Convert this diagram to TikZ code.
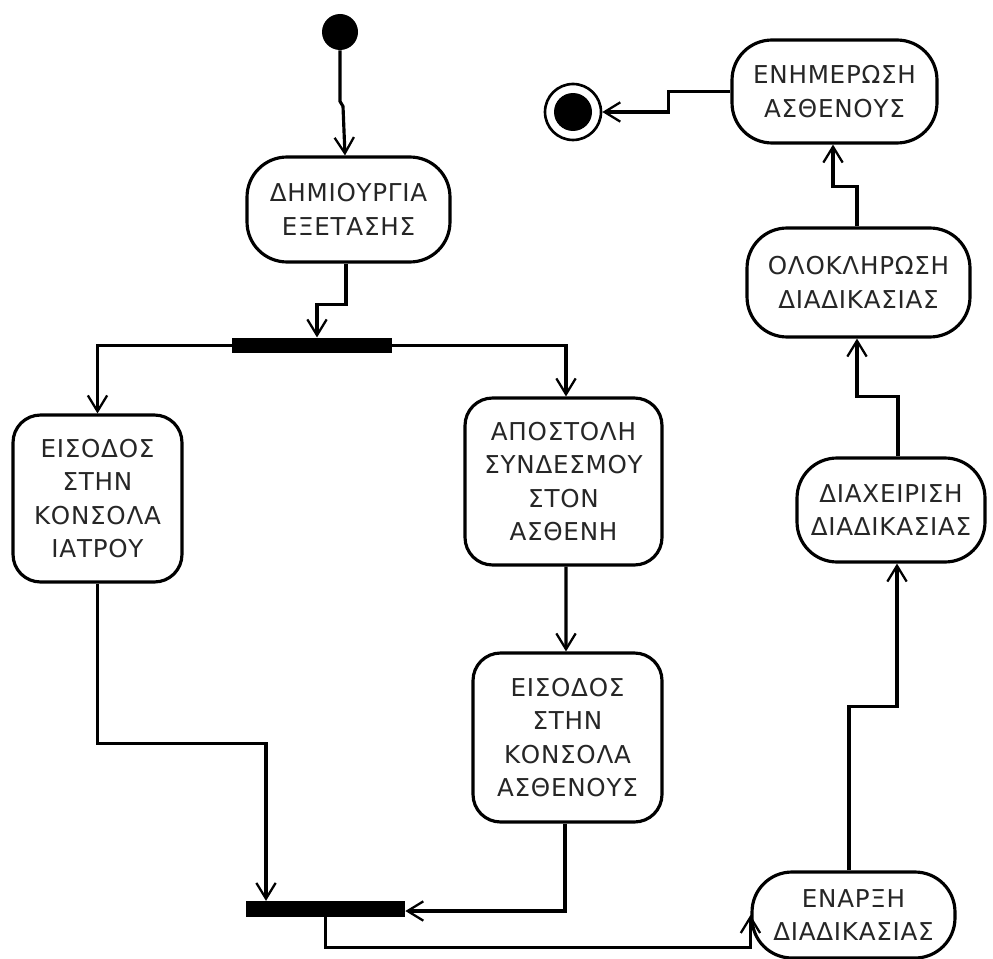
\documentclass[tikz,border=0pt]{standalone}
\usepackage{fontspec}
\setmainfont{DejaVu Sans}[LetterSpace=3]
\usetikzlibrary{arrows.meta,calc}
\begin{document}
\begin{tikzpicture}[x=0.02cm,y=-0.02cm,
  flow/.style={line width=1.8pt,-{Straight Barb[length=9pt,width=11pt,line width=1.3pt]}},
  act/.style={draw,line width=1.8pt,rounded corners=0.8cm,inner sep=0pt,align=center,
    text=black!85,font=\fontsize{14pt}{19pt}\selectfont},
  tallact/.style={act,rounded corners=0.55cm},
  bar/.style={fill=black,inner sep=0pt,minimum height=0.31cm},
  initnode/.style={circle,fill=black,inner sep=0pt,minimum size=0.72cm}]
\useasboundingbox (0,0) rectangle (993,959);

% initial and final states
\node[initnode] (start) at (340,32) {};
\node[circle,draw,line width=1.5pt,inner sep=0pt,minimum size=1.12cm] (endn) at (573,112) {};
\node[circle,fill=black,inner sep=0pt,minimum size=0.76cm] (endin) at (573,112) {};

% actions
\node[act,minimum width=4.06cm,minimum height=2.1cm] (create) at (348.5,209.5)
  {ΔΗΜΙΟΥΡΓΙΑ\\ΕΞΕΤΑΣΗΣ};
\node[tallact,minimum width=3.38cm,minimum height=3.34cm] (docin) at (97.5,498.5)
  {ΕΙΣΟΔΟΣ\\ΣΤΗΝ\\ΚΟΝΣΟΛΑ\\ΙΑΤΡΟΥ};
\node[tallact,minimum width=3.94cm,minimum height=3.34cm] (send) at (563.5,481.5)
  {ΑΠΟΣΤΟΛΗ\\ΣΥΝΔΕΣΜΟΥ\\ΣΤΟΝ\\ΑΣΘΕΝΗ};
\node[tallact,minimum width=3.78cm,minimum height=3.38cm] (patin) at (567.5,737.5)
  {ΕΙΣΟΔΟΣ\\ΣΤΗΝ\\ΚΟΝΣΟΛΑ\\ΑΣΘΕΝΟΥΣ};
\node[act,minimum width=4.06cm,minimum height=1.72cm] (begin) at (853.5,915)
  {ΕΝΑΡΞΗ\\ΔΙΑΔΙΚΑΣΙΑΣ};
\node[act,minimum width=3.76cm,minimum height=2.08cm] (manage) at (891,510)
  {ΔΙΑΧΕΙΡΙΣΗ\\ΔΙΑΔΙΚΑΣΙΑΣ};
\node[act,minimum width=4.46cm,minimum height=2.18cm] (complete) at (858.5,282.5)
  {ΟΛΟΚΛΗΡΩΣΗ\\ΔΙΑΔΙΚΑΣΙΑΣ};
\node[act,minimum width=4.1cm,minimum height=2.06cm] (notify) at (834.5,91.5)
  {ΕΝΗΜΕΡΩΣΗ\\ΑΣΘΕΝΟΥΣ};

% fork and join bars
\node[bar,minimum width=3.2cm] (fork) at (312,345.5) {};
\node[bar,minimum width=3.18cm] (join) at (325.5,909) {};

% transitions
\draw[flow] (start.south) -- ++(0,51) -- ++(3,5) -- ($(create.north)+(-3.5,0)$);
\draw[flow] ($(create.south)+(-2.5,0)$) -- ++(0,41) -| ($(fork.north)+(5,0)$);
\draw[flow] (fork.west) -| (docin.north);
\draw[flow] (fork.east) -| ($(send.north)+(2.5,0)$);
\draw[flow] ($(send.south)+(2.5,0)$) -- ($(patin.north)+(-1.5,0)$);
\draw[flow] (docin.south) -- ++(0,160) -| ($(join.north)+(-59.5,0)$);
\draw[flow] ($(patin.south)+(-2.5,0)$) |- ($(join.east)+(0,2)$);
\draw[flow] (join.south) -- ++(0,30) -| (begin.west);
\draw[flow] ($(begin.north)+(-4.5,0)$) -- ++(0,-164) -| ($(manage.south)+(6,0)$);
\draw[flow] ($(manage.north)+(7,0)$) -- ++(0,-60) -| ($(complete.south)+(-1.5,0)$);
\draw[flow] ($(complete.north)+(-1.5,0)$) -- ++(0,-40) -| ($(notify.south)+(-1.5,0)$);
\draw[flow] (notify.west) -- ++(-62,0) |- (endn.east);
\end{tikzpicture}
\end{document}
